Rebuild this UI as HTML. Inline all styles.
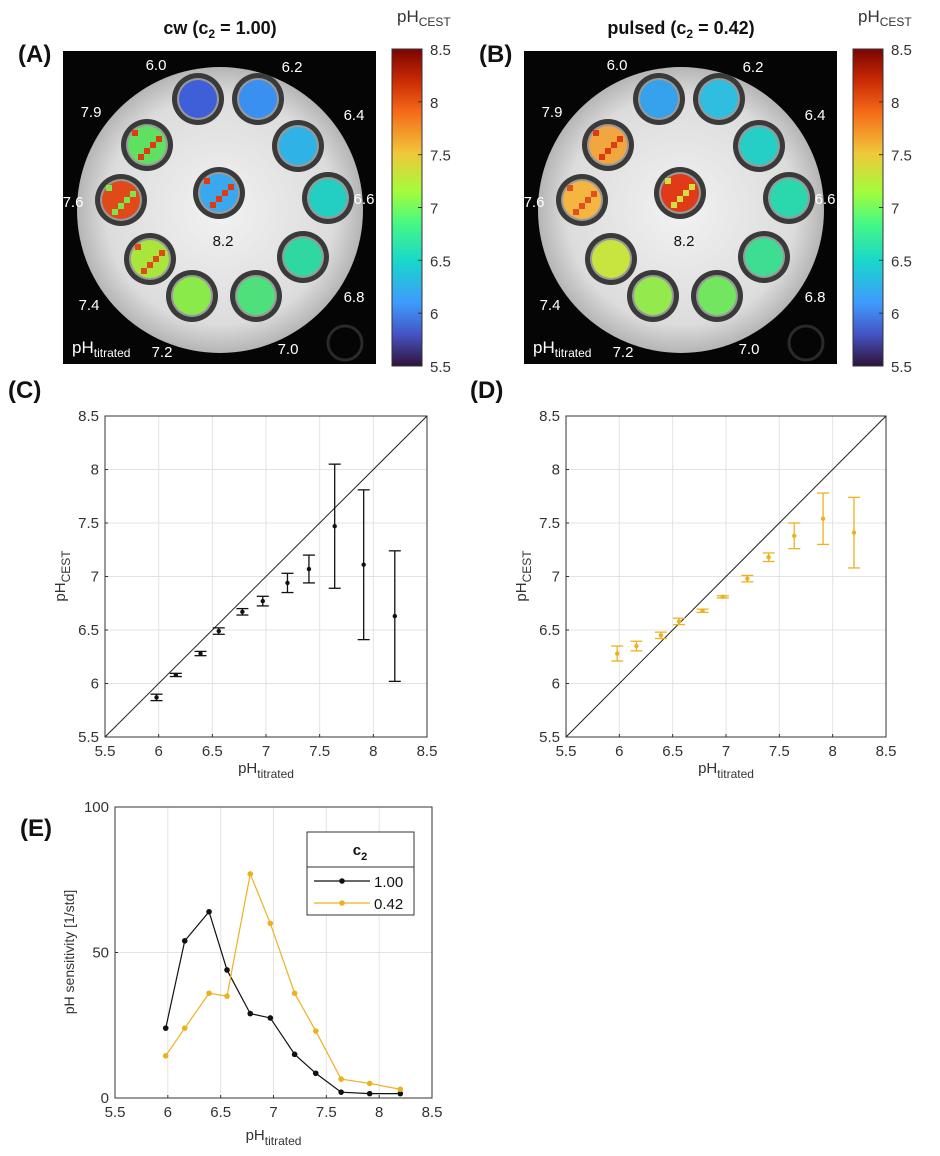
<!DOCTYPE html>
<html><head><meta charset="utf-8"><style>
body{margin:0;background:#fff;}
svg{display:block;font-family:"Liberation Sans",sans-serif;}
</style></head><body>
<svg id="fig" width="940" height="1156" viewBox="0 0 940 1156" xmlns="http://www.w3.org/2000/svg">
<defs>
<linearGradient id="turbo" x1="0" y1="1" x2="0" y2="0">
<stop offset="0" stop-color="#30123b"/><stop offset="0.1" stop-color="#4454c4"/><stop offset="0.2" stop-color="#3e9bfe"/>
<stop offset="0.33" stop-color="#18d7cb"/><stop offset="0.45" stop-color="#46f884"/><stop offset="0.55" stop-color="#a4fc3c"/>
<stop offset="0.67" stop-color="#f0c83a"/><stop offset="0.8" stop-color="#f66b19"/><stop offset="0.9" stop-color="#ca2a04"/><stop offset="1" stop-color="#7a0403"/>
</linearGradient>
<radialGradient id="disc" cx="0.5" cy="0.5" r="0.5">
<stop offset="0" stop-color="#f2f2f2"/><stop offset="0.8" stop-color="#dcdcdc"/><stop offset="1" stop-color="#b5b5b5"/>
</radialGradient>
</defs>
<g id="maps"></g>
<g id="charts"></g>
</svg>
<script>
// ---- data ----
const phTitrated = [5.98, 6.16, 6.39, 6.56, 6.78, 6.97, 7.20, 7.40, 7.64, 7.91, 8.20];
const cwMean = [5.87, 6.08, 6.28, 6.49, 6.67, 6.77, 6.94, 7.07, 7.47, 7.11, 6.63];
const cwErr = [0.03, 0.015, 0.02, 0.03, 0.03, 0.045, 0.09, 0.13, 0.58, 0.70, 0.61];
const pulsedMean = [6.28, 6.35, 6.45, 6.58, 6.68, 6.81, 6.98, 7.18, 7.38, 7.54, 7.41];
const pulsedErr = [0.07, 0.045, 0.03, 0.03, 0.015, 0.01, 0.03, 0.04, 0.12, 0.24, 0.33];
const sensCw = [24, 54, 64, 44, 29, 27.5, 15, 8.5, 2, 1.5, 1.5];
const sensPulsed = [14.5, 24, 36, 35, 77, 60, 36, 23, 6.5, 5, 3];
const axisTicks = [5.5, 6, 6.5, 7, 7.5, 8, 8.5];
const axisTickLabels = ["5.5", "6", "6.5", "7", "7.5", "8", "8.5"];
const sensTicks = [0, 50, 100];
const vialLabels = ["6.0","6.2","6.4","6.6","6.8","7.0","7.2","7.4","7.6","7.9","8.2"];
const NS = "http://www.w3.org/2000/svg";
function mk(parent, tag, attrs, text){const e=document.createElementNS(NS,tag);for(const k in attrs)e.setAttribute(k,attrs[k]);if(text!==undefined)e.textContent=text;parent.appendChild(e);return e;}
const maps = document.getElementById('maps');
const charts = document.getElementById('charts');

// ---- maps (A) and (B) ----
const vialPos=[[198,99],[258,99],[298,146],[328,198],[303,257],[256,296],[192,296],[150,259],[121,200],[147,145],[219,193]];
const labPos=[[156,70],[292,72],[354,120],[364,204],[354,302],[288,354],[162,357],[89,310],[73,207],[91,117],[223,246]];
const colA=["#3f5fd8","#3a90f0","#2fb3e6","#22cfc0","#2ed8a0","#4ee07a","#8aea4a","#a8e63c","#e04a1a","#60e060","#3aa8ee"];
const mixA=[null,null,null,null,null,null,null,"#e04a1a","#7ee64a","#e03a10","#e03a10"];
const colB=["#36a2ec","#2fbde0","#25cfc6","#2bd8ae","#3ede92","#72e65e","#94ea4c","#c8e43e","#f4b640","#f2a640","#e03a18"];
const mixB=[null,null,null,null,null,null,null,null,"#e05020","#e03a10","#d0e040"];
function drawMap(ox, title, cols, mixes, letter){
  const g=mk(maps,'g',{});
  
  
  const lt=mk(g,'text',{x:ox-55+10,y:62,'font-size':24,'font-weight':'bold',fill:'#111'},'('+letter+')');
  
  
  const tt=mk(g,'text',{x:ox+157,y:34,'font-size':18,'font-weight':'bold','text-anchor':'middle',fill:'#111'});
  tt.innerHTML=title;
  
  
  mk(g,'rect',{x:ox,y:51,width:313,height:313,fill:'#050505'});
  mk(g,'circle',{cx:ox+157,cy:210,r:143,fill:'url(#disc)'});
  mk(g,'circle',{cx:ox+282,cy:343,r:17,fill:'none',stroke:'#2a2a2a','stroke-width':3});
  vialPos.forEach((p,i)=>{
    const x=p[0]-63+ox,y=p[1];
    mk(g,'circle',{cx:x,cy:y,r:26,fill:'#3a3a3a'});
    mk(g,'circle',{cx:x,cy:y,r:21,fill:'#9a9a9a'});
    const c=mk(g,'circle',{cx:x,cy:y,r:19,fill:cols[i]});
    
    
    if(mixes[i]){
      for(let k=0;k<9;k++){const dx=((k*37)%5-2)*6, dy=((k*23)%5-2)*6;
        mk(g,'rect',{x:x+dx-3,y:y+dy-3,width:6,height:6,fill:mixes[i]});}
    }
    const lp=labPos[i];
    const t=mk(g,'text',{x:lp[0]-63+ox,y:lp[1],'font-size':15,fill:(i===10?'#111':'#fff'),'text-anchor':'middle'},vialLabels[i]);
    
    
  });
  const pt=mk(g,'text',{x:ox+9,y:353,'font-size':17,fill:'#fff'});
  pt.innerHTML='pH<tspan font-size="12" dy="4">titrated</tspan>';
  
  
  const cx=ox+329;
  const cb=mk(g,'rect',{x:cx,y:49,width:30,height:317,fill:'url(#turbo)',stroke:'#333','stroke-width':1});
  
  
  const ct=mk(g,'text',{x:cx+5,y:22,'font-size':17,fill:'#333'});
  ct.innerHTML='pH<tspan font-size="12" dy="4">CEST</tspan>';
  
  
  axisTicks.forEach((v,i)=>{const y=49+(8.5-v)/3*317;
    mk(g,'line',{x1:cx+26,x2:cx+30,y1:y,y2:y,stroke:'#333'});
    const tl=mk(g,'text',{x:cx+38,y:y+6,'font-size':15,fill:'#333'},axisTickLabels[i]);
    
    });
}
drawMap(63,'cw (c<tspan font-size="12" dy="4">2</tspan><tspan dy="-4"> = 1.00)</tspan>',colA,mixA,'A');
drawMap(524,'pulsed (c<tspan font-size="12" dy="4">2</tspan><tspan dy="-4"> = 0.42)</tspan>',colB,mixB,'B');

// ---- scatter charts ----
function axes(L,R,T,B,xmin,xmax,ymin,ymax,yt,ytl){
  const sx=v=>L+(v-xmin)/(xmax-xmin)*(R-L), sy=v=>B-(v-ymin)/(ymax-ymin)*(B-T);
  const g=mk(charts,'g',{});
  axisTicks.forEach((v,i)=>{const x=sx(v);
    mk(g,'line',{x1:x,x2:x,y1:T,y2:B,stroke:'#e3e3e3'});
    mk(g,'line',{x1:x,x2:x,y1:B,y2:B-3,stroke:'#333'});
    const t=mk(g,'text',{x:x,y:B+19,'font-size':15,fill:'#333','text-anchor':'middle'},axisTickLabels[i]);
    
    });
  yt.forEach((v,i)=>{const y=sy(v);
    mk(g,'line',{x1:L,x2:R,y1:y,y2:y,stroke:'#e3e3e3'});
    mk(g,'line',{x1:L,x2:L+3,y1:y,y2:y,stroke:'#333'});
    const t=mk(g,'text',{x:L-6,y:y+5,'font-size':15,fill:'#333','text-anchor':'end'},ytl[i]);
    
    });
  mk(g,'rect',{x:L,y:T,width:R-L,height:B-T,fill:'none',stroke:'#333'});
  return {sx,sy,g};
}
function xlabel(g,x,y){const t=mk(g,'text',{x:x,y:y,'font-size':15,fill:'#333','text-anchor':'middle'});
  t.innerHTML='pH<tspan font-size="12" dy="5">titrated</tspan>';
  
  }
function ylabel(g,x,y,html,fs){const t=mk(g,'text',{x:0,y:0,'font-size':fs||15,fill:'#333','text-anchor':'middle',transform:`translate(${x},${y}) rotate(-90)`});
  t.innerHTML=html;
  
  }
function scatter(L,R,letter,lx,means,errs,color){
  const a=axes(L,R,416,737,5.5,8.5,5.5,8.5,axisTicks,axisTickLabels);
  const pl=mk(a.g,'text',{x:lx,y:398,'font-size':24,'font-weight':'bold',fill:'#111'},'('+letter+')');
  
  
  const id=mk(a.g,'line',{x1:a.sx(5.5),y1:a.sy(5.5),x2:a.sx(8.5),y2:a.sy(8.5),stroke:'#222'});
  
  
  phTitrated.forEach((x,i)=>{
    const px=a.sx(x),y1=a.sy(means[i]-errs[i]),y2=a.sy(means[i]+errs[i]);
    const eb=mk(a.g,'g',{stroke:color,'stroke-width':1.3});
    
    
    mk(eb,'line',{x1:px,x2:px,y1:y1,y2:y2});
    mk(eb,'line',{x1:px-6,x2:px+6,y1:y1,y2:y1});
    mk(eb,'line',{x1:px-6,x2:px+6,y1:y2,y2:y2});
    const d=mk(a.g,'circle',{cx:px,cy:a.sy(means[i]),r:2.2,fill:color});
    
    
  });
  xlabel(a.g,(L+R)/2,773);
  ylabel(a.g,L-40,576,'pH<tspan font-size="12" dy="5">CEST</tspan>');
}
scatter(105,427,'C',8,cwMean,cwErr,'#111');
scatter(566,886,'D',470,pulsedMean,pulsedErr,'#edb120');

// ---- sensitivity chart (E) ----
(function(){
  const L=115,R=432,T=807,B=1098;
  const a=axes(L,R,T,B,5.5,8.5,0,100,sensTicks,sensTicks.map(String));
  const pl=mk(a.g,'text',{x:20,y:836,'font-size':24,'font-weight':'bold',fill:'#111'},'(E)');
  
  
  [[sensCw,'#111','series-cw'],[sensPulsed,'#edb120','series-pulsed']].forEach(s=>{
    const pts=phTitrated.map((x,i)=>a.sx(x)+','+a.sy(s[0][i])).join(' ');
    const pline=mk(a.g,'polyline',{points:pts,fill:'none',stroke:s[1],'stroke-width':1.2});
    
    
    phTitrated.forEach((x,i)=>{const c=mk(a.g,'circle',{cx:a.sx(x),cy:a.sy(s[0][i]),r:2.8,fill:s[1]});
      
      });
  });
  xlabel(a.g,(L+R)/2,1140);
  ylabel(a.g,L-41,952,'pH sensitivity [1/std]',14);
  const lg=mk(a.g,'g',{});
  
  
  mk(lg,'rect',{x:307,y:832,width:107,height:83,fill:'#fff',stroke:'#333'});
  mk(lg,'line',{x1:307,x2:414,y1:867,y2:867,stroke:'#333'});
  const lt=mk(lg,'text',{x:360,y:855,'font-size':15,'font-weight':'bold','text-anchor':'middle',fill:'#111'});
  lt.innerHTML='c<tspan font-size="11" dy="5">2</tspan>';
  [['1.00','#111',881],['0.42','#edb120',903]].forEach(e=>{
    const en=mk(lg,'g',{});
    
    
    mk(en,'line',{x1:314,x2:370,y1:e[2],y2:e[2],stroke:e[1],'stroke-width':1.2});
    mk(en,'circle',{cx:342,cy:e[2],r:2.8,fill:e[1]});
    mk(en,'text',{x:374,y:e[2]+6,'font-size':15,fill:'#111'},e[0]);
  });
})();
</script>
</body></html>
